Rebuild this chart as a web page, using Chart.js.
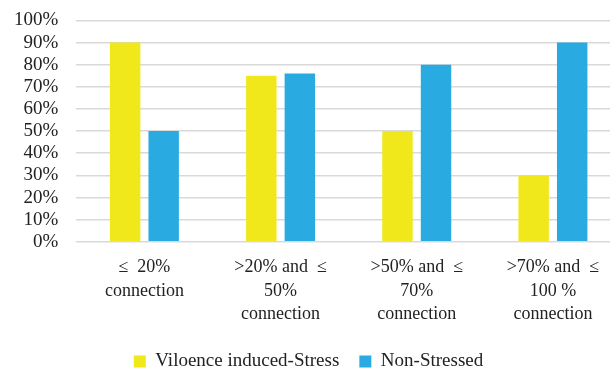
<!DOCTYPE html>
<html>
<head>
<meta charset="utf-8">
<script src="https://cdn.jsdelivr.net/npm/chart.js@4"></script>
<style>
  html, body { margin: 0; padding: 0; background: #fff; overflow: hidden; }
  #wrap { width: 624px; height: 377px; margin-top: -9px; }
</style>
</head>
<body>
<div id="wrap"><canvas id="connChart"></canvas></div>
<script>
// categories, values
const categories = [
  ["\u2264  20%", "connection"],
  [">20% and  \u2264", "50%", "connection"],
  [">50% and  \u2264", "70%", "connection"],
  [">70% and  \u2264", "100 %", "connection"]
];
const stressed = [90, 75, 50, 30];
const nonStressed = [50, 76, 80, 90];
const yTicks = [0, 10, 20, 30, 40, 50, 60, 70, 80, 90, 100];

const serif = "Liberation Serif";

new Chart(document.getElementById("connChart"), {
  type: "bar",
  data: {
    labels: categories,
    datasets: [{
      label: "Viloence induced-Stress",
      data: stressed,
      backgroundColor: "#F0E81A"
    }, {
      label: "Non-Stressed",
      data: nonStressed,
      backgroundColor: "#29ABE2"
    }]
  },
  options: {
    responsive: true,
    maintainAspectRatio: false,
    animation: false,
    color: "#222",
    categoryPercentage: 0.566,
    barPercentage: 0.79,
    layout: { padding: { top: 0, right: 3, left: -4, bottom: -13 } },
    plugins: {
      tooltip: { enabled: false },
      legend: {
        position: "bottom",
        labels: {
          boxWidth: 12,
          boxHeight: 12,
          padding: 20,
          color: "#222",
          font: { family: serif, size: 19 }
        }
      }
    },
    scales: {
      x: {
        grid: { display: false },
        border: { display: false },
        ticks: {
          color: "#222",
          font: { family: serif, size: 18, lineHeight: 1.3 },
          padding: 6, maxRotation: 0, autoSkip: false
        }
      },
      y: {
        min: 0,
        max: 100,
        afterBuildTicks: axis => { axis.ticks = yTicks.map(v => ({ value: v })); },
        grid: { color: "#d9d9d9", lineWidth: 1.5, drawTicks: false },
        border: { display: false },
        ticks: {
          color: "#222",
          autoSkip: false,
          font: { family: serif, size: 19 },
          padding: 18,
          callback: v => v + "%"
        }
      }
    }
  }
});
</script>
</body>
</html>
